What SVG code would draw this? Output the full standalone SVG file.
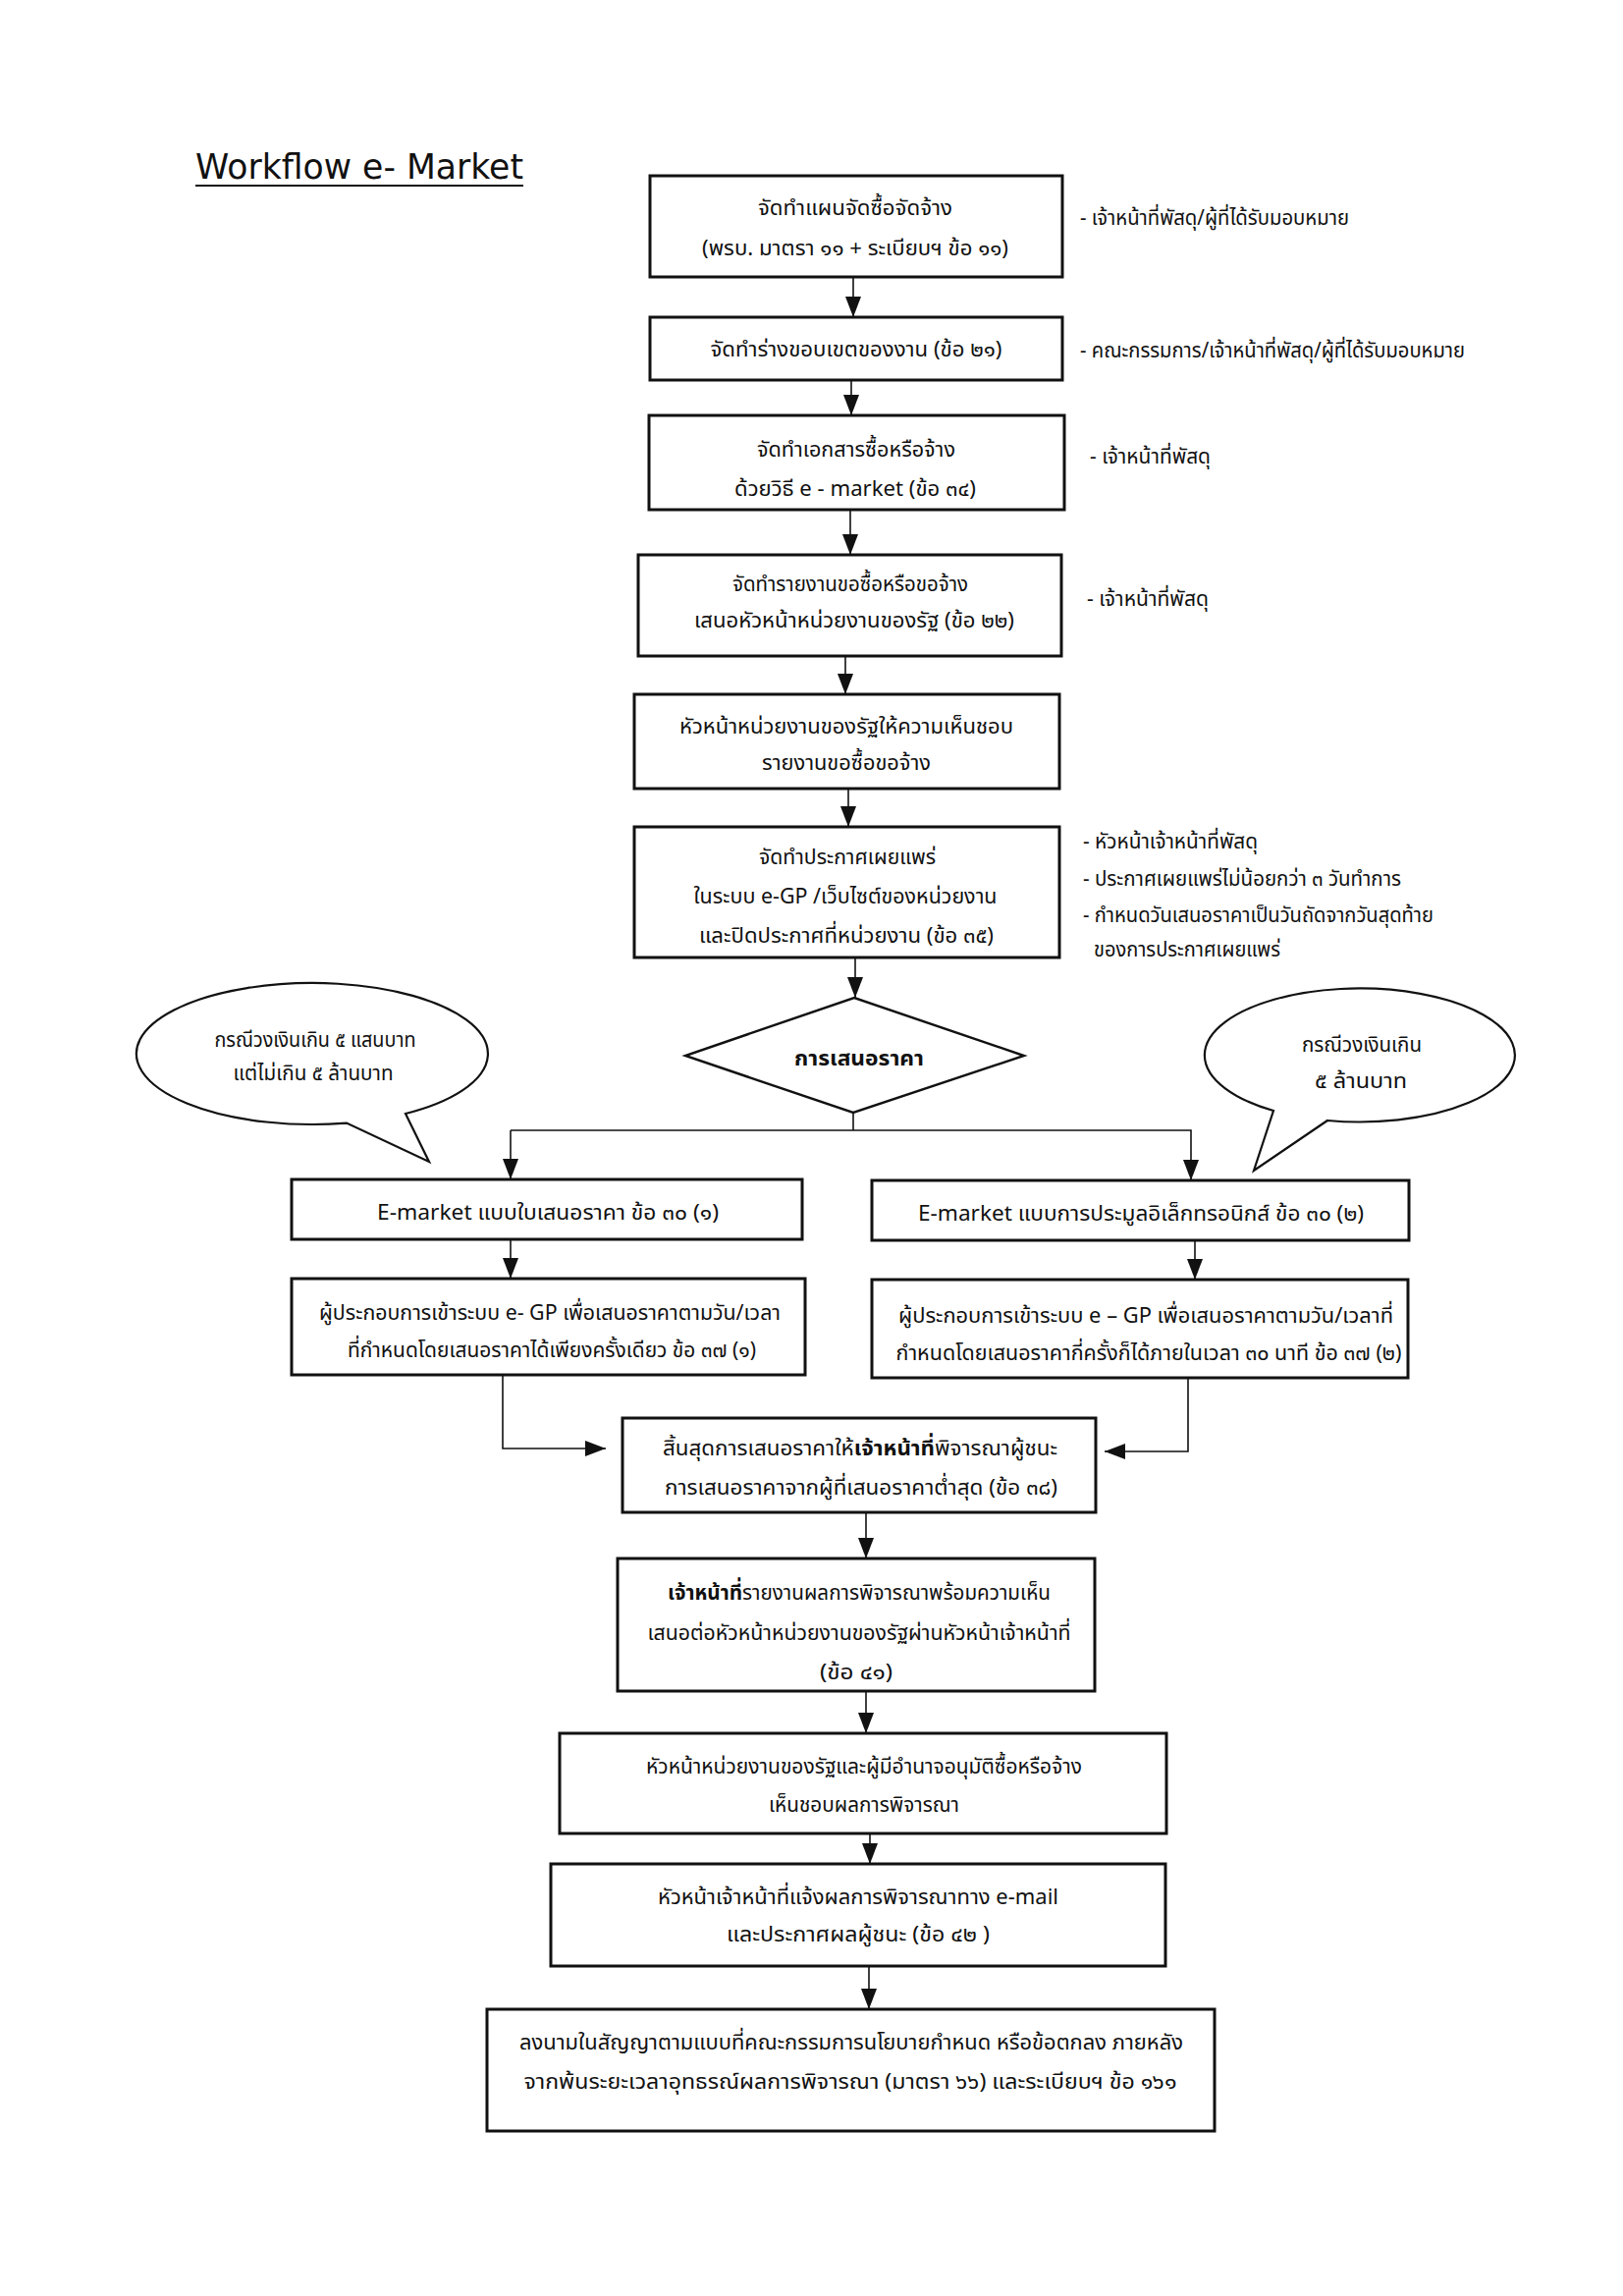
<svg xmlns="http://www.w3.org/2000/svg" width="1653" height="2338" viewBox="0 0 1653 2338">
<defs>
<style>
.bg{fill:#ffffff}
.box{fill:#ffffff;stroke:#111111;stroke-width:3}
.dia{fill:#ffffff;stroke:#111111;stroke-width:2.4}
.bub{fill:#ffffff;stroke:#111111;stroke-width:2.2}
.con{fill:none;stroke:#111111;stroke-width:1.6}
.t{font-family:"Noto Sans Thai","Tahoma","Noto Sans","DejaVu Sans",sans-serif;font-size:22px;fill:#111111;text-anchor:middle}
.s{font-size:21px}
.a{font-family:"Noto Sans Thai","Tahoma","Noto Sans","DejaVu Sans",sans-serif;font-size:21px;fill:#111111;text-anchor:start}
.b{font-weight:bold}
.title{font-family:"DejaVu Sans","Noto Sans",sans-serif;font-size:36px;fill:#111111}
</style>
<marker id="ah" markerUnits="userSpaceOnUse" markerWidth="22" markerHeight="16" refX="21" refY="8" orient="auto">
<path d="M0,0 L21,8 L0,16 z" fill="#111111"/>
</marker>
</defs>
<rect class="bg" x="0" y="0" width="1653" height="2338"/>

<g id="title">
<text class="title" x="199" y="182" textLength="334" lengthAdjust="spacingAndGlyphs">Workflow e- Market</text>
<line x1="199" y1="189" x2="533" y2="189" stroke="#111111" stroke-width="2"/>
</g>

<g id="connectors">
<line class="con" x1="869" y1="282" x2="869" y2="323" marker-end="url(#ah)"/>
<line class="con" x1="867" y1="387" x2="867" y2="423" marker-end="url(#ah)"/>
<line class="con" x1="866" y1="519" x2="866" y2="565" marker-end="url(#ah)"/>
<line class="con" x1="861" y1="668" x2="861" y2="707" marker-end="url(#ah)"/>
<line class="con" x1="864" y1="803" x2="864" y2="842" marker-end="url(#ah)"/>
<line class="con" x1="871" y1="975" x2="871" y2="1016" marker-end="url(#ah)"/>
<polyline class="con" points="869,1133 869,1151"/>
<polyline class="con" points="520,1151 1213,1151 1213,1202" marker-end="url(#ah)"/>
<line class="con" x1="520" y1="1151" x2="520" y2="1201" marker-end="url(#ah)"/>
<line class="con" x1="520" y1="1262" x2="520" y2="1302" marker-end="url(#ah)"/>
<line class="con" x1="1217" y1="1263" x2="1217" y2="1303" marker-end="url(#ah)"/>
<polyline class="con" points="512,1400 512,1475 617,1475" marker-end="url(#ah)"/>
<polyline class="con" points="1210,1403 1210,1478 1125,1478" marker-end="url(#ah)"/>
<line class="con" x1="882" y1="1540" x2="882" y2="1587" marker-end="url(#ah)"/>
<line class="con" x1="882" y1="1722" x2="882" y2="1765" marker-end="url(#ah)"/>
<line class="con" x1="886" y1="1867" x2="886" y2="1898" marker-end="url(#ah)"/>
<line class="con" x1="885" y1="2002" x2="885" y2="2046" marker-end="url(#ah)"/>
</g>

<g id="n1">
<rect class="box" x="662" y="179" width="420" height="103"/>
<text class="t" x="871" y="219" textLength="198" lengthAdjust="spacingAndGlyphs">จัดทำแผนจัดซื้อจัดจ้าง</text>
<text class="t" x="871" y="260" textLength="312" lengthAdjust="spacingAndGlyphs">(พรบ. มาตรา ๑๑ + ระเบียบฯ ข้อ ๑๑)</text>
</g>
<g id="a1"><text class="a" x="1100" y="229" textLength="274" lengthAdjust="spacingAndGlyphs">- เจ้าหน้าที่พัสดุ/ผู้ที่ได้รับมอบหมาย</text></g>

<g id="n2">
<rect class="box" x="662" y="323" width="420" height="64"/>
<text class="t" x="872" y="363" textLength="297" lengthAdjust="spacingAndGlyphs">จัดทำร่างขอบเขตของงาน (ข้อ ๒๑)</text>
</g>
<g id="a2"><text class="a" x="1100" y="364" textLength="392" lengthAdjust="spacingAndGlyphs">- คณะกรรมการ/เจ้าหน้าที่พัสดุ/ผู้ที่ได้รับมอบหมาย</text></g>

<g id="n3">
<rect class="box" x="661" y="423" width="423" height="96"/>
<text class="t" x="872" y="465" textLength="202" lengthAdjust="spacingAndGlyphs">จัดทำเอกสารซื้อหรือจ้าง</text>
<text class="t" x="871" y="505" textLength="246" lengthAdjust="spacingAndGlyphs">ด้วยวิธี e - market (ข้อ ๓๔)</text>
</g>
<g id="a3"><text class="a" x="1110" y="472" textLength="123" lengthAdjust="spacingAndGlyphs">- เจ้าหน้าที่พัสดุ</text></g>

<g id="n4">
<rect class="box" x="650" y="565" width="431" height="103"/>
<text class="t" x="866" y="602" textLength="240" lengthAdjust="spacingAndGlyphs">จัดทำรายงานขอซื้อหรือขอจ้าง</text>
<text class="t" x="870" y="639" textLength="326" lengthAdjust="spacingAndGlyphs">เสนอหัวหน้าหน่วยงานของรัฐ (ข้อ ๒๒)</text>
</g>
<g id="a4"><text class="a" x="1107" y="617" textLength="124" lengthAdjust="spacingAndGlyphs">- เจ้าหน้าที่พัสดุ</text></g>

<g id="n5">
<rect class="box" x="646" y="707" width="433" height="96"/>
<text class="t" x="862" y="747" textLength="340" lengthAdjust="spacingAndGlyphs">หัวหน้าหน่วยงานของรัฐให้ความเห็นชอบ</text>
<text class="t" x="862" y="784" textLength="172" lengthAdjust="spacingAndGlyphs">รายงานขอซื้อขอจ้าง</text>
</g>

<g id="n6">
<rect class="box" x="646" y="842" width="433" height="133"/>
<text class="t" x="863" y="880" textLength="180" lengthAdjust="spacingAndGlyphs">จัดทำประกาศเผยแพร่</text>
<text class="t" x="861" y="920" textLength="309" lengthAdjust="spacingAndGlyphs">ในระบบ e-GP /เว็บไซต์ของหน่วยงาน</text>
<text class="t" x="862" y="960" textLength="300" lengthAdjust="spacingAndGlyphs">และปิดประกาศที่หน่วยงาน (ข้อ ๓๕)</text>
</g>
<g id="a6">
<text class="a" x="1103" y="864" textLength="178" lengthAdjust="spacingAndGlyphs">- หัวหน้าเจ้าหน้าที่พัสดุ</text>
<text class="a" x="1103" y="902" textLength="324" lengthAdjust="spacingAndGlyphs">- ประกาศเผยแพร่ไม่น้อยกว่า ๓ วันทำการ</text>
<text class="a" x="1103" y="939" textLength="357" lengthAdjust="spacingAndGlyphs">- กำหนดวันเสนอราคาเป็นวันถัดจากวันสุดท้าย</text>
<text class="a" x="1114" y="974" textLength="190" lengthAdjust="spacingAndGlyphs">ของการประกาศเผยแพร่</text>
</g>

<g id="decision">
<polygon class="dia" points="870,1016 1043,1075 869,1133 698,1075"/>
<text class="t b" x="875" y="1085" textLength="132" lengthAdjust="spacingAndGlyphs">การเสนอราคา</text>
</g>

<g id="bubbleLeft">
<path class="bub" d="M353,1143.6 A179,72 0 1 1 413,1134 L437,1183 Z"/>
<text class="t s" x="321" y="1066" textLength="205" lengthAdjust="spacingAndGlyphs">กรณีวงเงินเกิน ๕ แสนบาท</text>
<text class="t s" x="319" y="1100" textLength="163" lengthAdjust="spacingAndGlyphs">แต่ไม่เกิน ๕ ล้านบาท</text>
</g>

<g id="bubbleRight">
<path class="bub" d="M1297,1131 A158,68 0 1 1 1352,1141 L1277,1192 Z"/>
<text class="t s" x="1387" y="1071" textLength="122" lengthAdjust="spacingAndGlyphs">กรณีวงเงินเกิน</text>
<text class="t s" x="1386" y="1108" textLength="94" lengthAdjust="spacingAndGlyphs">๕ ล้านบาท</text>
</g>

<g id="n7">
<rect class="box" x="297" y="1201" width="520" height="61"/>
<text class="t" x="558" y="1242" textLength="348" lengthAdjust="spacingAndGlyphs">E-market แบบใบเสนอราคา ข้อ ๓๐ (๑)</text>
</g>
<g id="n8">
<rect class="box" x="888" y="1202" width="547" height="61"/>
<text class="t" x="1162" y="1243" textLength="454" lengthAdjust="spacingAndGlyphs">E-market  แบบการประมูลอิเล็กทรอนิกส์ ข้อ ๓๐ (๒)</text>
</g>

<g id="n9">
<rect class="box" x="297" y="1302" width="523" height="98"/>
<text class="t" x="560" y="1344" textLength="470" lengthAdjust="spacingAndGlyphs">ผู้ประกอบการเข้าระบบ e- GP เพื่อเสนอราคาตามวัน/เวลา</text>
<text class="t" x="562" y="1382" textLength="416" lengthAdjust="spacingAndGlyphs">ที่กำหนดโดยเสนอราคาได้เพียงครั้งเดียว ข้อ ๓๗ (๑)</text>
</g>
<g id="n10">
<rect class="box" x="888" y="1303" width="546" height="100"/>
<text class="t" x="1167" y="1347" textLength="504" lengthAdjust="spacingAndGlyphs">ผู้ประกอบการเข้าระบบ e – GP เพื่อเสนอราคาตามวัน/เวลาที่</text>
<text class="t" x="1170" y="1385" textLength="515" lengthAdjust="spacingAndGlyphs">กำหนดโดยเสนอราคากี่ครั้งก็ได้ภายในเวลา ๓๐ นาที ข้อ ๓๗ (๒)</text>
</g>

<g id="n11">
<rect class="box" x="634" y="1444" width="482" height="96"/>
<text class="t" x="876" y="1482" textLength="402" lengthAdjust="spacingAndGlyphs">สิ้นสุดการเสนอราคาให้<tspan class="b">เจ้าหน้าที่</tspan>พิจารณาผู้ชนะ</text>
<text class="t" x="877" y="1522" textLength="400" lengthAdjust="spacingAndGlyphs">การเสนอราคาจากผู้ที่เสนอราคาต่ำสุด (ข้อ ๓๘)</text>
</g>

<g id="n12">
<rect class="box" x="629" y="1587" width="486" height="135"/>
<text class="t" x="875" y="1629" textLength="390" lengthAdjust="spacingAndGlyphs"><tspan class="b">เจ้าหน้าที่</tspan>รายงานผลการพิจารณาพร้อมความเห็น</text>
<text class="t" x="875" y="1670" textLength="431" lengthAdjust="spacingAndGlyphs">เสนอต่อหัวหน้าหน่วยงานของรัฐผ่านหัวหน้าเจ้าหน้าที่</text>
<text class="t" x="872" y="1710" textLength="74" lengthAdjust="spacingAndGlyphs">(ข้อ ๔๑)</text>
</g>

<g id="n13">
<rect class="box" x="570" y="1765" width="618" height="102"/>
<text class="t" x="880" y="1806" textLength="444" lengthAdjust="spacingAndGlyphs">หัวหน้าหน่วยงานของรัฐและผู้มีอำนาจอนุมัติซื้อหรือจ้าง</text>
<text class="t" x="880" y="1845" textLength="194" lengthAdjust="spacingAndGlyphs">เห็นชอบผลการพิจารณา</text>
</g>

<g id="n14">
<rect class="box" x="561" y="1898" width="626" height="104"/>
<text class="t" x="874" y="1939" textLength="408" lengthAdjust="spacingAndGlyphs">หัวหน้าเจ้าหน้าที่แจ้งผลการพิจารณาทาง e-mail</text>
<text class="t" x="874" y="1977" textLength="268" lengthAdjust="spacingAndGlyphs">และประกาศผลผู้ชนะ (ข้อ ๔๒ )</text>
</g>

<g id="n15">
<rect class="box" x="496" y="2046" width="741" height="124"/>
<text class="t" x="867" y="2087" textLength="676" lengthAdjust="spacingAndGlyphs">ลงนามในสัญญาตามแบบที่คณะกรรมการนโยบายกำหนด หรือข้อตกลง ภายหลัง</text>
<text class="t" x="866" y="2127" textLength="665" lengthAdjust="spacingAndGlyphs">จากพ้นระยะเวลาอุทธรณ์ผลการพิจารณา (มาตรา ๖๖) และระเบียบฯ ข้อ ๑๖๑</text>
</g>
</svg>
